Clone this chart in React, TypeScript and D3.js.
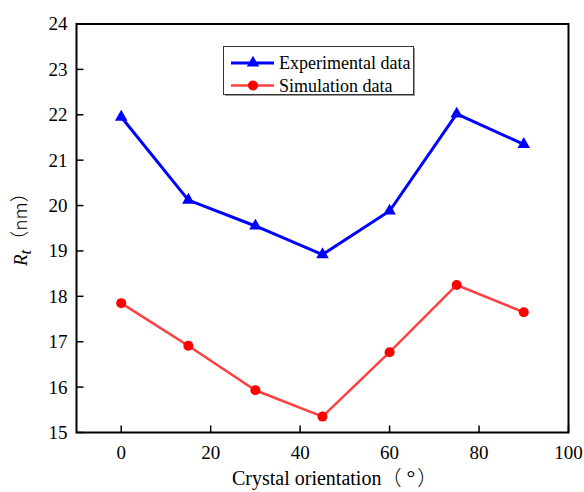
import React from "react";
import * as d3 from "d3";

const orientations = [0, 15, 30, 45, 60, 75, 90];
const experimental = [21.95, 20.12, 19.55, 18.92, 19.88, 22.02, 21.35];
const simulation = [17.85, 16.91, 15.93, 15.35, 16.77, 18.25, 17.65];
const xTicks = [0, 20, 40, 60, 80, 100];
const yTicks = [15, 16, 17, 18, 19, 20, 21, 22, 23, 24];

const W = 584;
const H = 492;
const margin = { left: 76.5, right: 15.5, top: 24, bottom: 59.5 };
const FONT = "Liberation Serif";
const CJK = "Noto Sans CJK SC";
const txt = { fontFamily: FONT } as React.CSSProperties;
const cjk = { fontFamily: CJK, fontWeight: 300 } as React.CSSProperties;

export default function App() {
  const x = d3.scaleLinear().domain([-10, 100]).range([margin.left, W - margin.right]);
  const y = d3.scaleLinear().domain([15, 24]).range([H - margin.bottom, margin.top]);
  const line = d3
    .line<number>()
    .x((_, i) => x(orientations[i]))
    .y((d) => y(d));
  const tri = d3.symbol().type(d3.symbolTriangle).size(68)() as string;
  const x0 = x.range()[0];
  const x1 = x.range()[1];
  const y0 = y.range()[0];
  const y1 = y.range()[1];

  return (
    <svg width={W} height={H} style={{ position: "absolute", left: 0, top: 0, background: "#fff" }}>
      {/* data lines */}
      <path d={line(experimental) as string} fill="none" stroke="#0000ff" strokeWidth={3} />
      {experimental.map((v, i) => (
        <path key={"e" + i} d={tri} transform={`translate(${x(orientations[i])},${y(v)})`} fill="#0000ff" />
      ))}
      <path d={line(simulation) as string} fill="none" stroke="#ff4040" strokeWidth={2.5} />
      {simulation.map((v, i) => (
        <circle key={"s" + i} cx={x(orientations[i])} cy={y(v)} r={5} fill="#ff0000" />
      ))}

      {/* frame */}
      <rect x={x0} y={y1} width={x1 - x0} height={y0 - y1} fill="none" stroke="#000" strokeWidth={2} />

      {/* x ticks */}
      {xTicks.map((t) => (
        <g key={"x" + t}>
          <line x1={x(t)} x2={x(t)} y1={y0} y2={y0 - 7} stroke="#000" strokeWidth={1.5} />
          <text x={x(t)} y={y0 + 26} textAnchor="middle" style={txt} fontSize={19} fill="#000">
            {t}
          </text>
        </g>
      ))}
      {/* y ticks */}
      {yTicks.map((t) => (
        <g key={"y" + t}>
          <line x1={x0} x2={x0 + 7} y1={y(t)} y2={y(t)} stroke="#000" strokeWidth={1.5} />
          <text x={x0 - 9} y={y(t)} dy="0.34em" textAnchor="end" style={txt} fontSize={19} fill="#000">
            {t}
          </text>
        </g>
      ))}

      {/* axis titles */}
      <text x={232} y={485} style={txt} fontSize={20} fill="#000">
        Crystal orientation
        <tspan style={cjk} fontSize={20}>（</tspan>
        <tspan fontSize={22} dx={5}>°</tspan>
        <tspan style={cjk} fontSize={20} dx={2}>）</tspan>
      </text>
      <text transform="translate(27,266) rotate(-90)" style={txt} fontSize={19} fill="#000">
        <tspan fontStyle="italic">R</tspan>
        <tspan fontStyle="italic" fontSize={17} dy={4}>t</tspan>
        <tspan style={cjk} fontSize={19} dy={-4}>（nm）</tspan>
      </text>

      {/* legend */}
      <g>
        <rect x={225} y={48} width={190} height={48} fill="#999" />
        <rect x={223.5} y={46.5} width={190} height={48} fill="#fff" stroke="#333" strokeWidth={1} />
        <line x1={231} x2={274} y1={63} y2={63} stroke="#0000ff" strokeWidth={3} />
        <path d={tri} transform="translate(253,63)" fill="#0000ff" />
        <text x={279} y={63} dy="0.34em" style={txt} fontSize={18} fill="#000">
          Experimental data
        </text>
        <line x1={231} x2={274} y1={85.5} y2={85.5} stroke="#ff4040" strokeWidth={2.5} />
        <circle cx={253} cy={85.5} r={5} fill="#ff0000" />
        <text x={279} y={85.5} dy="0.34em" style={txt} fontSize={18} fill="#000">
          Simulation data
        </text>
      </g>
    </svg>
  );
}
